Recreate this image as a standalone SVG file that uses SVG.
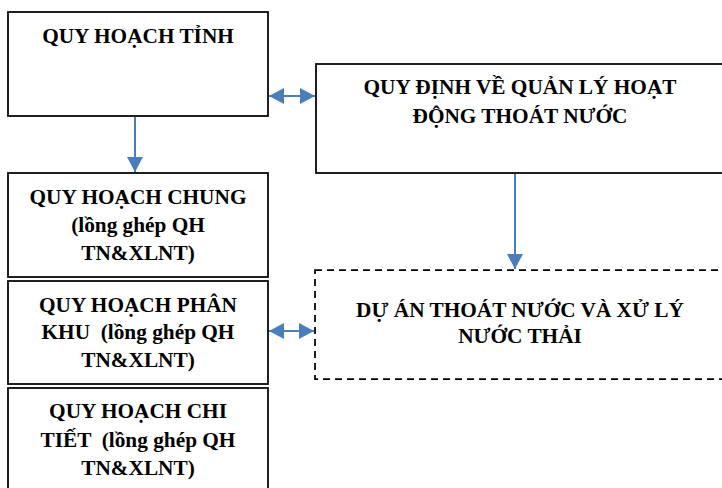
<svg xmlns="http://www.w3.org/2000/svg" width="722" height="488" viewBox="0 0 722 488">
  <style>
    .box { fill: #ffffff; stroke: #000000; stroke-width: 1.75; }
    .dash { fill: #ffffff; stroke: #000000; stroke-width: 1.75; stroke-dasharray: 7 5; }
    .lbl { font-family: "Liberation Serif", "Times New Roman", serif; font-weight: bold; font-size: 21.3px; fill: #000000; text-anchor: middle; white-space: pre; }
    .conn { stroke: #4a7ebb; stroke-width: 2; fill: none; }
  </style>
  <defs>
    <marker id="head" markerUnits="userSpaceOnUse" markerWidth="15" markerHeight="16" refX="15" refY="8" orient="auto-start-reverse">
      <path d="M0,0 L15,8 L0,16 Z" fill="#4a7ebb"/>
    </marker>
  </defs>

  <rect width="722" height="488" fill="#ffffff"/>

  <g id="quy-hoach-tinh">
    <rect class="box" x="8" y="12" width="260" height="104"/>
    <text class="lbl" x="138" y="43">QUY HOẠCH TỈNH</text>
  </g>

  <g id="quy-dinh">
    <rect class="box" x="316" y="64" width="414" height="109"/>
    <text class="lbl" x="520" y="94">QUY ĐỊNH VỀ QUẢN LÝ HOẠT</text>
    <text class="lbl" x="520" y="123">ĐỘNG THOÁT NƯỚC</text>
  </g>

  <g id="quy-hoach-chung">
    <rect class="box" x="8" y="173" width="260" height="104"/>
    <text class="lbl" x="138" y="204">QUY HOẠCH CHUNG</text>
    <text class="lbl" x="138" y="232">(lồng ghép QH</text>
    <text class="lbl" x="138" y="260">TN&amp;XLNT)</text>
  </g>

  <g id="quy-hoach-phan-khu">
    <rect class="box" x="8" y="281" width="260" height="103"/>
    <text class="lbl" x="138" y="312">QUY HOẠCH PHÂN</text>
    <text class="lbl" x="138" y="339" xml:space="preserve">KHU  (lồng ghép QH</text>
    <text class="lbl" x="138" y="367">TN&amp;XLNT)</text>
  </g>

  <g id="quy-hoach-chi-tiet">
    <rect class="box" x="8" y="388" width="260" height="110"/>
    <text class="lbl" x="138" y="418">QUY HOẠCH CHI</text>
    <text class="lbl" x="138" y="447" xml:space="preserve">TIẾT  (lồng ghép QH</text>
    <text class="lbl" x="138" y="475">TN&amp;XLNT)</text>
  </g>

  <g id="du-an">
    <rect class="dash" x="315" y="270" width="415" height="109"/>
    <text class="lbl" x="520" y="317">DỰ ÁN THOÁT NƯỚC VÀ XỬ LÝ</text>
    <text class="lbl" x="520" y="343">NƯỚC THẢI</text>
  </g>

  <g id="connectors">
    <line class="conn" x1="269" y1="96" x2="315" y2="96" marker-start="url(#head)" marker-end="url(#head)"/>
    <line class="conn" x1="135" y1="117" x2="135" y2="172" marker-end="url(#head)"/>
    <line class="conn" x1="515" y1="174" x2="515" y2="269" marker-end="url(#head)"/>
    <line class="conn" x1="269" y1="331" x2="314" y2="331" marker-start="url(#head)" marker-end="url(#head)"/>
  </g>
</svg>
